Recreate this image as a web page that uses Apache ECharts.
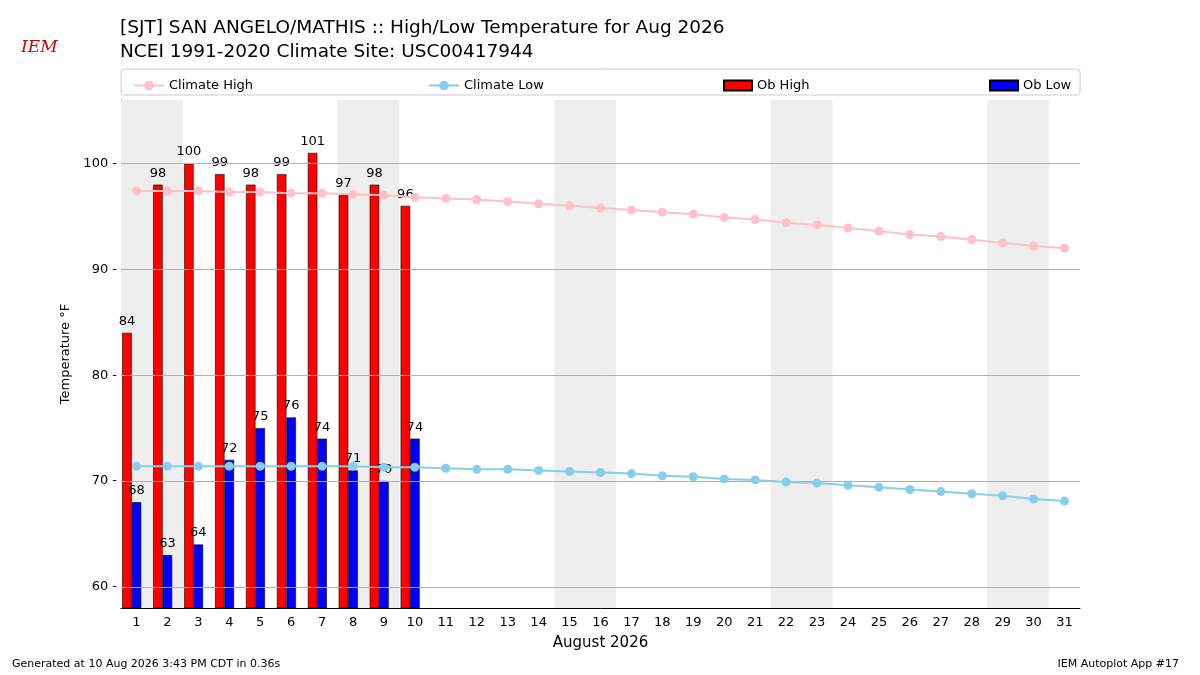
<!DOCTYPE html>
<html><head><meta charset="utf-8">
<script src="https://cdn.jsdelivr.net/npm/echarts@6/dist/echarts.min.js"></script>
<style>body{margin:0}#c{width:1200px;height:675px}</style></head>
<body><div id="c"></div>
<script>
const days = Array.from({length: 31}, (_, i) => String(i + 1));
const climateHigh = [97.4,97.4,97.4,97.3,97.3,97.2,97.2,97.1,97.0,96.8,96.7,96.6,96.4,96.2,96.0,95.8,95.6,95.4,95.2,94.9,94.7,94.4,94.2,93.9,93.6,93.3,93.1,92.8,92.5,92.2,92.0];
const climateLow = [71.4,71.4,71.4,71.4,71.4,71.4,71.4,71.4,71.3,71.3,71.2,71.1,71.1,71.0,70.9,70.8,70.7,70.5,70.4,70.2,70.1,69.9,69.8,69.6,69.4,69.2,69.0,68.8,68.6,68.3,68.1];
const obHigh = [84,98,100,99,98,99,101,97,98,96];
const obLow = [68,63,64,72,75,76,74,71,70,74];
const weekends = [[1,2],[8,9],[15,16],[22,23],[29,30]];
const yTicks = [60, 70, 80, 90, 100];

const chart = echarts.init(document.getElementById('c'));
const font = 'DejaVu Sans';
const lbl = {show: true, position: 'top', color: '#000', fontSize: 13, fontFamily: font};
const leg = (name, left, isBar) => ({data: [isBar ? {name: name, icon: 'rect'} : name], left: left, top: 74,
  itemWidth: isBar ? 28 : 30, itemHeight: isBar ? 10 : 12,
  textStyle: {fontSize: 13, fontFamily: font, color: '#000'}});
chart.setOption({
  animation: false,
  textStyle: {fontFamily: font},
  title: [
    {text: '[SJT] SAN ANGELO/MATHIS :: High/Low Temperature for Aug 2026\nNCEI 1991-2020 Climate Site: USC00417944',
     left: 115, top: 11, textStyle: {fontSize: 18.5, fontWeight: 'normal', lineHeight: 24, color: '#000', fontFamily: font}},
    {text: 'Generated at 10 Aug 2026 3:43 PM CDT in 0.36s', left: 7, top: 654, textStyle: {fontSize: 11, fontWeight: 'normal', color: '#000'}},
    {text: 'IEM Autoplot App #17', right: 16, top: 654, textStyle: {fontSize: 11, fontWeight: 'normal', color: '#000'}},
    {text: 'IEM', left: 16, top: 34, textStyle: {fontSize: 17, fontStyle: 'italic', fontWeight: 'normal', color: '#c00', fontFamily: 'DejaVu Serif'}}
  ],
  graphic: [{type: 'rect', shape: {x: 121, y: 69, width: 959, height: 26, r: 3}, style: {fill: 'none', stroke: '#ccc'}}],
  legend: [leg('Climate High', 128, false), leg('Climate Low', 423, false), leg('Ob High', 718, true), leg('Ob Low', 984, true)],
  grid: {left: 121, right: 120, top: 100, bottom: 67},
  xAxis: [
    {type: 'category', data: days, name: 'August 2026', nameLocation: 'middle', nameGap: 28,
     nameTextStyle: {fontSize: 15, color: '#000'},
     axisLine: {lineStyle: {color: '#000'}}, axisTick: {alignWithLabel: true, lineStyle: {color: '#000'}},
     axisLabel: {color: '#000', fontSize: 13}},
    {type: 'value', min: 0.5, max: 31.5, show: false}
  ],
  yAxis: {type: 'value', min: 58, max: 106, interval: 2,
    name: 'Temperature °F', nameLocation: 'middle', nameGap: 45, nameTextStyle: {fontSize: 13, color: '#000'},
    axisLine: {show: true, lineStyle: {color: '#000'}}, axisTick: {show: false},
    axisLabel: {color: '#000', fontSize: 13, margin: 4, formatter: v => v % 10 === 0 ? v + ' -' : ''},
    splitLine: {show: false}},
  series: [
    {type: 'line', xAxisIndex: 1, data: [], silent: true,
     markArea: {silent: true, itemStyle: {color: '#eeeeee'},
       data: weekends.map(w => [{xAxis: w[0] - 0.5}, {xAxis: w[1] + 0.5}])},
     markLine: {silent: true, symbol: 'none', label: {show: false}, lineStyle: {color: '#b0b0b0', type: 'solid', width: 1},
       data: yTicks.map(v => ({yAxis: v}))}},
    {name: 'Ob High', type: 'bar', data: obHigh, barWidth: 9.5, barGap: '0%',
     itemStyle: {color: '#ff0000', borderColor: '#000', borderWidth: 0.6}, label: lbl},
    {name: 'Ob Low', type: 'bar', data: obLow, barWidth: 9.5,
     itemStyle: {color: '#0000ff', borderColor: '#000', borderWidth: 0.6}, label: lbl},
    {name: 'pad', type: 'bar', data: [], barWidth: 9.5},
    {name: 'Climate High', type: 'line', data: climateHigh, symbol: 'circle', symbolSize: 9,
     itemStyle: {color: '#ffc0cb'}, lineStyle: {color: '#ffc0cb', width: 2}, z: 5},
    {name: 'Climate Low', type: 'line', data: climateLow, symbol: 'circle', symbolSize: 9,
     itemStyle: {color: '#87ceeb'}, lineStyle: {color: '#87ceeb', width: 2}, z: 5}
  ]
});
</script></body></html>
